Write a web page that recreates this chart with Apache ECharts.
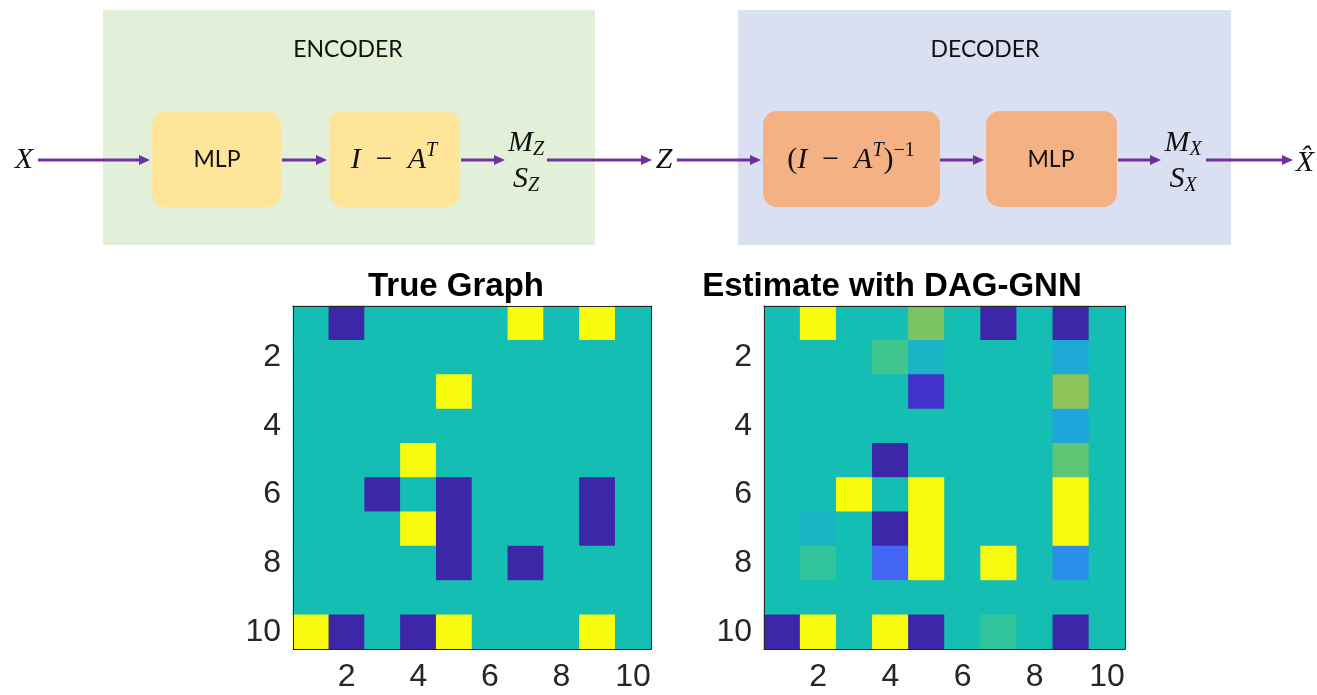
<!DOCTYPE html>
<html>
<head>
<meta charset="utf-8">
<style>
  html, body { margin: 0; padding: 0; background: #fff; }
  #chart { width: 1317px; height: 695px; }
</style>
<script src="https://cdn.jsdelivr.net/npm/echarts@6/dist/echarts.min.js"></script>
</head>
<body>
<div id="chart"></div>
<script>
  /* ========== 数据 ========== */
  const idx = ['1', '2', '3', '4', '5', '6', '7', '8', '9', '10']; // 行/列序号
  const tickLabels = ['2', '4', '6', '8', '10']; // 显示的刻度

  // 真实图（行 = 从上到下，列 = 从左到右）
  const trueGraph = [
    [0, -1, 0, 0, 0, 0, 1, 0, 1, 0],
    [0, 0, 0, 0, 0, 0, 0, 0, 0, 0],
    [0, 0, 0, 0, 1, 0, 0, 0, 0, 0],
    [0, 0, 0, 0, 0, 0, 0, 0, 0, 0],
    [0, 0, 0, 1, 0, 0, 0, 0, 0, 0],
    [0, 0, -1, 0, -1, 0, 0, 0, -1, 0],
    [0, 0, 0, 1, -1, 0, 0, 0, -1, 0],
    [0, 0, 0, 0, -1, 0, -1, 0, 0, 0],
    [0, 0, 0, 0, 0, 0, 0, 0, 0, 0],
    [1, -1, 0, -1, 1, 0, 0, 0, 1, 0],
  ];

  // DAG-GNN 估计
  const estGraph = [
    [0, 1, 0, 0, 0.45, 0, -1, 0, -1, 0],
    [0, 0, 0, 0.22, -0.1, 0, 0, 0, -0.2, 0],
    [0, 0, 0, 0, -0.85, 0, 0, 0, 0.52, 0],
    [0, 0, 0, 0, 0, 0, 0, 0, -0.22, 0],
    [0, 0, 0, -1, 0, 0, 0, 0, 0.35, 0],
    [0, 0, 1, 0, 1, 0, 0, 0, 1, 0],
    [0, -0.1, 0, -1, 1, 0, 0, 0, 1, 0],
    [0, 0.15, 0, -0.6, 1, 0, 1, 0, -0.4, 0],
    [0, 0, 0, 0, 0, 0, 0, 0, 0, 0],
    [-1, 1, 0, 1, -1, 0, 0.15, 0, -1, 0],
  ];

  // parula 近似色带（-1 .. 1 均匀分布）
  const parula = ['#3E26A8', '#4435D8', '#4466F4', '#2B8EEA', '#1CA9D8', '#15BEB3',
                  '#3AC591', '#6DC56A', '#A3C24C', '#DCCB2C', '#F9FB0E'];

  /* ========== 工具 ========== */
  const toCells = (m) => m.flatMap((row, r) => row.map((v, c) => [c, r, v]));

  const axisColor = '#262626';
  const numFont = '"Liberation Sans", Arial, sans-serif';
  const mathFont = '"Liberation Serif", "DejaVu Serif", serif';
  const sansFont = 'Lato, "Open Sans", sans-serif';
  const purple = '#7030A0';
  const showTick = (i, v) => tickLabels.includes(v);

  function xAxes(gi) {
    const base = {
      type: 'category', data: idx, gridIndex: gi, z: 10,
      axisLine: { lineStyle: { color: axisColor, width: 1 } },
      axisTick: { inside: true, length: 5, alignWithLabel: true, interval: showTick,
                  lineStyle: { color: axisColor } },
      splitLine: { show: false },
    };
    return [
      { ...base, position: 'bottom',
        axisLabel: { interval: showTick, margin: 12, color: axisColor, fontSize: 32, fontFamily: numFont } },
      { ...base, position: 'top', axisLabel: { show: false } },
    ];
  }

  function yAxes(gi) {
    const base = {
      type: 'category', data: idx, gridIndex: gi, inverse: true, z: 10,
      axisLine: { lineStyle: { color: axisColor, width: 1 } },
      axisTick: { inside: true, length: 5, alignWithLabel: true, interval: showTick,
                  lineStyle: { color: axisColor } },
      splitLine: { show: false },
    };
    return [
      { ...base, position: 'left',
        axisLabel: { interval: showTick, margin: 12, color: axisColor, fontSize: 32, fontFamily: numFont } },
      { ...base, position: 'right', axisLabel: { show: false } },
    ];
  }

  function arrow(x1, x2, y) {
    return {
      type: 'group', z: 15,
      children: [
        { type: 'line', z: 15, shape: { x1: x1, y1: y, x2: x2 - 8, y2: y },
          style: { stroke: purple, lineWidth: 3 } },
        { type: 'polygon', z: 15, shape: { points: [[x2, y], [x2 - 11, y - 5], [x2 - 11, y + 5]] },
          style: { fill: purple } },
      ],
    };
  }

  const rich = {
    it: { fontFamily: mathFont, fontStyle: 'italic', fontSize: 30, fill: '#111' },
    rm: { fontFamily: mathFont, fontSize: 30, fill: '#111' },
    sup: { fontFamily: mathFont, fontStyle: 'italic', fontSize: 20, fill: '#111', padding: [0, 0, 18, 0] },
    supRm: { fontFamily: mathFont, fontSize: 20, fill: '#111', padding: [0, 0, 18, 0] },
    sub: { fontFamily: mathFont, fontStyle: 'italic', fontSize: 20, fill: '#111', padding: [13, 0, 0, 0] },
  };

  function math(x, y, text) {
    return { type: 'text', x: x, y: y, z: 20,
             style: { text: text, rich: rich, align: 'center', verticalAlign: 'middle' } };
  }

  function label(x, y, text, size) {
    return { type: 'text', x: x, y: y, z: 20,
             style: { text: text, fill: '#111', fontSize: size, fontFamily: sansFont,
                      align: 'center', verticalAlign: 'middle' } };
  }

  function box(x, y, w, h, color, r, z) {
    return { type: 'rect', shape: { x: x, y: y, width: w, height: h, r: r }, style: { fill: color }, z: z };
  }

  /* ========== 图表 ========== */
  const chart = echarts.init(document.getElementById('chart'));

  const graphic = [
    // 编码器 / 解码器底色
    box(103, 10, 492, 235, '#E2EFD9', 0, 4),
    box(738, 10, 493, 235, '#DAE0F2', 0, 4),
    label(348, 50, 'ENCODER', 23),
    label(985, 50, 'DECODER', 23),
    // 模块
    box(152, 111, 129, 96, '#FFE599', 14, 6),
    box(329, 111, 131, 96, '#FFE599', 14, 6),
    box(763, 111, 177, 96, '#F4B183', 14, 6),
    box(986, 111, 131, 96, '#F4B183', 14, 6),
    label(217, 160, 'MLP', 23),
    label(1051, 160, 'MLP', 23),
    math(394, 160, '{it|I}{rm|\u2002\u2212\u2002}{it|A}{sup|T}'),
    math(851, 160, '{rm|(}{it|I}{rm|\u2002\u2212\u2002}{it|A}{sup|T}{rm|)}{supRm|\u22121}'),
    // 变量
    math(24, 160, '{it|X}'),
    math(664, 160, '{it|Z}'),
    math(1305, 163, '{it|X\u0302}'),
    math(526, 143, '{it|M}{sub|Z}'),
    math(526, 179, '{it|S}{sub|Z}'),
    math(1183, 143, '{it|M}{sub|X}'),
    math(1183, 179, '{it|S}{sub|X}'),
    // 箭头
    arrow(38, 150, 160),
    arrow(282, 327, 160),
    arrow(461, 505, 160),
    arrow(547, 652, 160),
    arrow(677, 761, 160),
    arrow(940, 984, 160),
    arrow(1118, 1161, 160),
    arrow(1206, 1293, 160),
    // 标题
    { type: 'text', x: 456, y: 287, z: 20,
      style: { text: 'True Graph', fill: '#000', fontSize: 33, fontWeight: 'bold', fontFamily: numFont,
               align: 'center', verticalAlign: 'middle' } },
    { type: 'text', x: 892, y: 287, z: 20,
      style: { text: 'Estimate with DAG-GNN', fill: '#000', fontSize: 33, fontWeight: 'bold', fontFamily: numFont,
               align: 'center', verticalAlign: 'middle' } },
  ];

  chart.setOption({
    animation: false,
    backgroundColor: '#fff',
    grid: [
      { left: 293, top: 306, width: 358, height: 343, show: true, backgroundColor: parula[5], borderWidth: 0 },
      { left: 764, top: 306, width: 361, height: 343, show: true, backgroundColor: parula[5], borderWidth: 0 },
    ],
    xAxis: [...xAxes(0), ...xAxes(1)],
    yAxis: [...yAxes(0), ...yAxes(1)],
    visualMap: {
      type: 'continuous', show: false, min: -1, max: 1, seriesIndex: [0, 1],
      inRange: { color: parula },
    },
    series: [
      { type: 'heatmap', xAxisIndex: 0, yAxisIndex: 0, data: toCells(trueGraph),
        itemStyle: { borderWidth: 0 }, progressive: 0, z: 1 },
      { type: 'heatmap', xAxisIndex: 2, yAxisIndex: 2, data: toCells(estGraph),
        itemStyle: { borderWidth: 0 }, progressive: 0, z: 1 },
    ],
    graphic: graphic,
  });
</script>
</body>
</html>
